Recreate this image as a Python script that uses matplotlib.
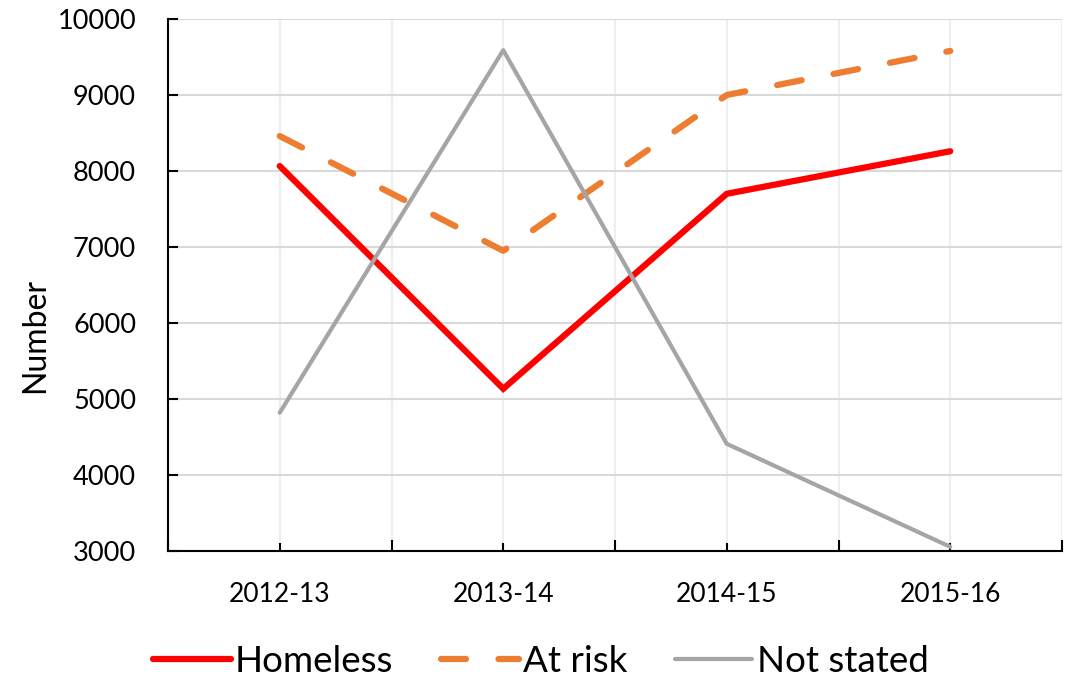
import matplotlib
matplotlib.use("Agg")
import matplotlib.pyplot as plt
from matplotlib.ticker import MultipleLocator

categories = ["2012-13", "2013-14", "2014-15", "2015-16"]
homeless = [8065, 5135, 7700, 8260]
at_risk = [8460, 6950, 9000, 9580]
not_stated = [4820, 9590, 4410, 3055]

plt.rcParams['font.family'] = ['Lato', 'DejaVu Sans']

fig = plt.figure(figsize=(10.73, 6.79), dpi=100)
ax = fig.add_axes([168/1073, 1-551/679, (1062-168)/1073, (551-19)/679])

x = list(range(len(categories)))
ax.plot(x, homeless, color='#FF0000', lw=4.5, solid_capstyle='round', solid_joinstyle='miter', label='Homeless', zorder=3)
ax.plot(x, at_risk, color='#ED7D31', lw=4.5, dashes=(4, 5.2), dash_capstyle='round', label='At risk', zorder=3)
ax.plot(x, not_stated, color='#A5A5A5', lw=3, solid_capstyle='round', label='Not stated', zorder=3)

ax.set_xlim(-0.5, 3.5)
ax.set_ylim(3000, 10000)
ax.yaxis.set_major_locator(MultipleLocator(1000))
ax.set_xticks(x)
ax.set_xticklabels(categories)
ax.set_xticks([-0.5, 0.5, 1.5, 2.5, 3.5], minor=True)

for s in ['top', 'right']:
    ax.spines[s].set_visible(False)
for s in ['left', 'bottom']:
    ax.spines[s].set_linewidth(1.5)
    ax.spines[s].set_color('black')

ax.grid(axis='y', which='major', color='#D9D9D9', lw=1.5, zorder=0)
ax.grid(axis='x', which='both', color='#EEEEEE', lw=1.5, zorder=0)
ax.set_axisbelow(True)

ax.tick_params(axis='y', direction='in', length=7, width=1.5, labelsize=19.5, pad=23)
ax.tick_params(axis='x', which='major', direction='in', length=6, width=1.5, labelsize=19, pad=22)
ax.tick_params(axis='x', which='minor', direction='in', length=8, width=1.5)

fig.text(35/1073, 1-335/679, 'Number', rotation=90, ha='center', va='center', fontsize=23)

leg = fig.legend(loc='center', bbox_to_anchor=(541/1073, 1-661/679), ncol=3, frameon=False,
                 fontsize=26.5, handlelength=2.1, handletextpad=0.12, columnspacing=1.3)

fig.savefig('out.png', dpi=100)
